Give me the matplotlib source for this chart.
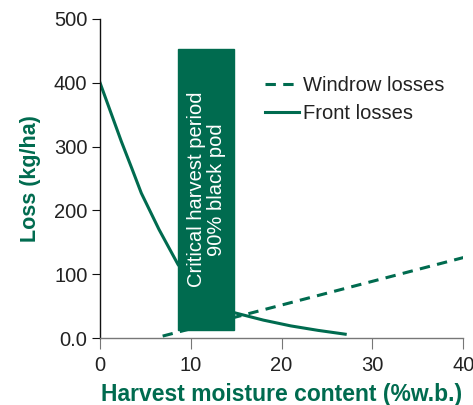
import matplotlib
matplotlib.use("Agg")
import matplotlib.pyplot as plt
from matplotlib.patches import Rectangle

plt.rcParams['font.family'] = ['Liberation Sans', 'DejaVu Sans']

GREEN = "#006b4f"

# Front losses (kg/ha) against harvest moisture content (%w.b.)
front_x = [0, 1.2, 2.35, 3.5, 4.55, 6.5, 8.6, 11, 14.7, 18, 21, 24, 27]
front_y = [400, 353, 308, 266, 227, 170, 115, 75, 40, 28, 19, 12, 6]

# Windrow losses
windrow_x = [6.9, 40]
windrow_y = [3, 126]

# Critical harvest period band
band_x = [8.6, 14.8]
band_y = [12, 453]
band_label = "Critical harvest period\n90% black pod"

xticks = [0, 10, 20, 30, 40]
yticks = [0, 100, 200, 300, 400, 500]
ytick_labels = ["0.0", "100", "200", "300", "400", "500"]

fig = plt.figure(figsize=(4.73, 4.05), dpi=100)
ax = fig.add_axes([0.2114, 0.1654, 0.768, 0.788])

ax.plot(windrow_x, windrow_y, color=GREEN, lw=2.2, ls=(0, (3.4, 2.4)),
        label="Windrow losses", zorder=2)
ax.plot(front_x, front_y, color=GREEN, lw=2.2, label="Front losses", zorder=2)

ax.add_patch(Rectangle((band_x[0], band_y[0]), band_x[1] - band_x[0],
                       band_y[1] - band_y[0], color=GREEN, zorder=3))
ax.text(sum(band_x) / 2, sum(band_y) / 2, band_label, rotation=90,
        color="white", fontsize=14.5, ha="center", va="center",
        multialignment="center", linespacing=1.05, zorder=4)

ax.set_xlim(0, 40)
ax.set_ylim(0, 500)
ax.set_xticks(xticks)
ax.set_yticks(yticks)
ax.set_yticklabels(ytick_labels)

for s in ("top", "right"):
    ax.spines[s].set_visible(False)
ax.spines["left"].set_color("#111111")
ax.spines["bottom"].set_color("#777777")
ax.spines["left"].set_linewidth(1.0)
ax.spines["bottom"].set_linewidth(1.0)
ax.tick_params(axis="both", direction="out", labelsize=14.5,
               labelcolor="#222222", pad=3)
ax.tick_params(axis="x", length=8, color="#777777", pad=5)
ax.tick_params(axis="y", length=6, color="#111111")

ax.set_xlabel("Harvest moisture content (%w.b.)", color=GREEN,
              fontsize=16.5, fontweight="bold", labelpad=6)
ax.set_ylabel("Loss (kg/ha)", color=GREEN, fontsize=15.5,
              fontweight="bold", labelpad=9)

leg = ax.legend(loc="center left", bbox_to_anchor=(0.455, 0.748),
                frameon=False, fontsize=14.5, handlelength=1.65,
                handletextpad=0.2, labelspacing=0.45, borderpad=0,
                borderaxespad=0)
for t in leg.get_texts():
    t.set_color("#222222")

fig.savefig("out.png", dpi=100)
